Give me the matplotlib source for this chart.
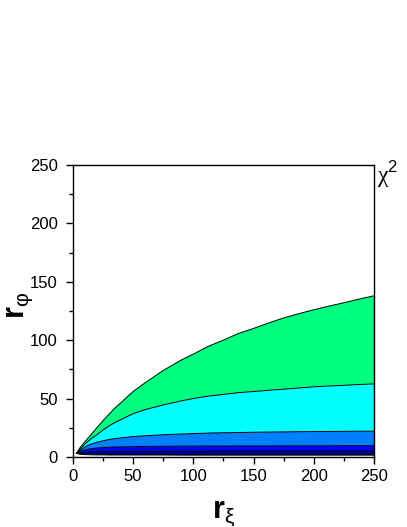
import numpy as np
import matplotlib.pyplot as plt
from matplotlib.ticker import MultipleLocator

plt.rcParams['font.family'] = ['Liberation Sans', 'DejaVu Sans']
plt.rcParams['mathtext.fontset'] = 'custom'
plt.rcParams['mathtext.rm'] = 'Liberation Sans'
plt.rcParams['mathtext.bf'] = 'Liberation Sans:bold'

# r_xi grid and contour boundaries of chi^2
r_xi = [3, 6, 10, 15, 20, 25, 30, 35, 40, 50, 60, 75, 90, 100, 112, 125, 137,
        150, 162, 175, 187, 200, 212, 225, 237, 250]
bound_low = [3, 2.3, 2.0, 1.8, 1.7, 1.7, 1.6, 1.6, 1.6, 1.6, 1.6, 1.6, 1.5, 1.5, 1.5,
             1.5, 1.5, 1.5, 1.5, 1.5, 1.5, 1.5, 1.5, 1.5, 1.5, 1.5]
bound_1 = [3, 3.5, 4.0, 4.3, 4.5, 4.6, 4.6, 4.7, 4.7, 4.8, 4.8, 4.9, 4.9, 4.9, 5.0,
           5.0, 5.0, 5.0, 5.0, 5.0, 5.0, 5.0, 5.0, 5.0, 5.0, 5.0]
bound_2 = [3, 4.5, 6.0, 7.0, 7.6, 8.0, 8.3, 8.5, 8.6, 8.8, 9.0, 9.1, 9.2, 9.2, 9.3,
           9.3, 9.4, 9.4, 9.4, 9.5, 9.5, 9.5, 9.5, 9.6, 9.6, 9.6]
bound_3 = [3, 5.5, 8.5, 11.0, 12.5, 13.8, 14.9, 15.7, 16.3, 17.4, 18.1, 19.0, 19.6,
           20.0, 20.4, 20.7, 20.9, 21.1, 21.3, 21.4, 21.6, 21.7, 21.8, 21.9, 22.0, 22.0]
bound_4 = [3, 6.5, 11.0, 15.5, 19.0, 23.0, 26.5, 29.5, 32.0, 37.0, 40.5, 44.5, 48.0,
           50.0, 52.0, 53.5, 55.0, 56.0, 57.0, 58.0, 59.0, 60.0, 60.7, 61.3, 62.0, 62.5]
bound_5 = [3, 8.0, 13.0, 19.0, 25.0, 31.0, 36.5, 42.0, 46.5, 56.0, 63.5, 74.0, 83.0,
           88.0, 94.5, 100.0, 105.5, 110.0, 114.5, 119.0, 122.5, 126.0, 129.0, 132.0,
           135.0, 138.0]

bounds = [bound_low, bound_1, bound_2, bound_3, bound_4, bound_5]
colors = ['#000080', '#0000ff', '#0080ff', '#00ffff', '#00ff80']

fig = plt.figure(figsize=(4.07, 5.27), dpi=100)
ax = fig.add_axes([0.179, 0.133, 0.740, 0.554])

x = np.array(r_xi)
for i in range(len(colors)):
    ax.fill_between(x, bounds[i], bounds[i + 1], facecolor=colors[i], edgecolor='none')
for b in bounds:
    ax.plot(x, b, color='black', lw=0.7)

ax.set_xlim(0, 250)
ax.set_ylim(0, 250)
ax.xaxis.set_major_locator(MultipleLocator(50))
ax.xaxis.set_minor_locator(MultipleLocator(25))
ax.yaxis.set_major_locator(MultipleLocator(50))
ax.yaxis.set_minor_locator(MultipleLocator(25))
ax.tick_params(which='both', direction='out', width=1, labelsize=12)
ax.tick_params(which='major', length=5)
ax.tick_params(which='minor', length=3)
ax.tick_params(axis='y', pad=6)
for s in ax.spines.values():
    s.set_linewidth(1)

ax.set_xlabel(r'$\mathbf{r}_{\mathrm{ξ}}$', fontsize=22, labelpad=10)
ax.set_ylabel(r'$\mathbf{r}_{\mathrm{φ}}$', fontsize=22)
ax.yaxis.set_label_coords(-0.125, 0.52)
fig.text(0.926, 0.652, 'χ$^2$', fontsize=17, family='Liberation Serif', ha='left')

fig.savefig('out.png', dpi=100)
